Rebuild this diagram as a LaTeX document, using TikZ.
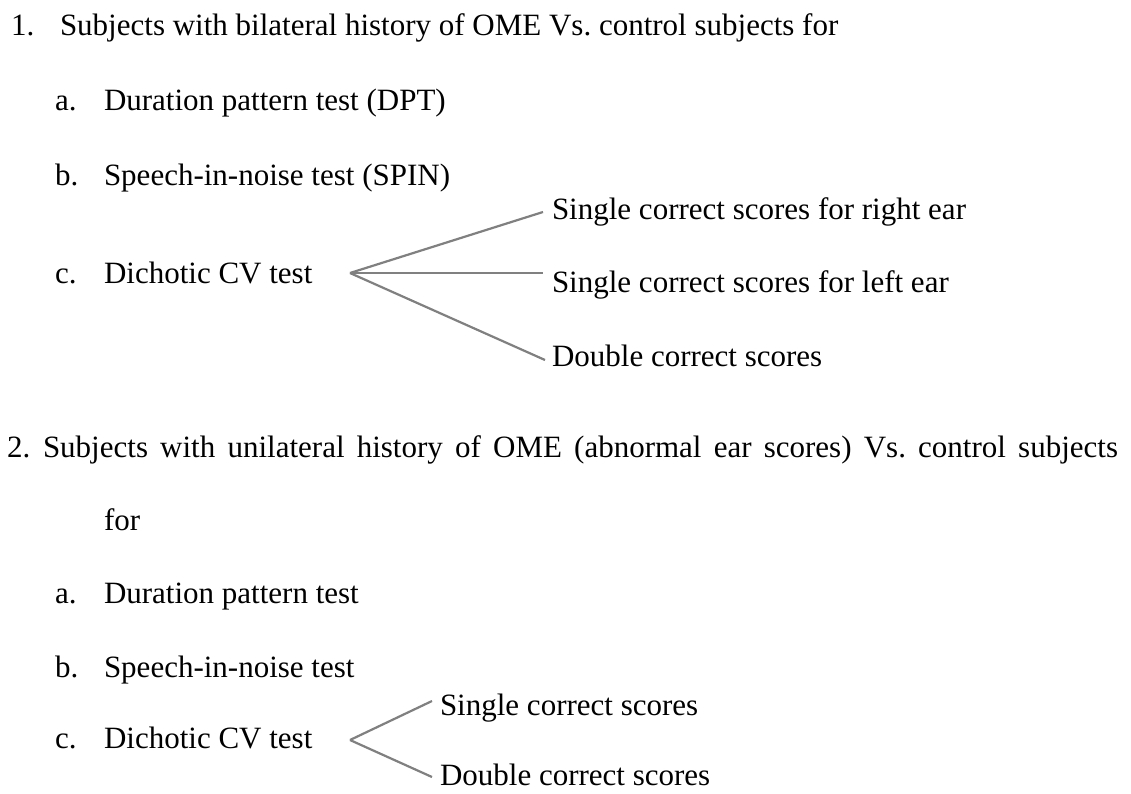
\documentclass[tikz,border=0pt]{standalone}
\usepackage{fontspec}
\setmainfont{Liberation Serif}
\frenchspacing
\begin{document}
\begin{tikzpicture}[x=1pt,y=-1pt,
  txt/.style={inner sep=0pt, outer sep=0pt, anchor=base west,
              font=\fontsize{31}{37}\selectfont},
  branch/.style={draw=black!50, line width=2.2pt}]
\fill[white] (0,0) rectangle (1131,793);
\useasboundingbox (0,0) rectangle (1131,793);

% Part 1
\node[txt] (n1)  at (11,35)  {1.};
\node[txt] (t1)  at (60,35)  {Subjects with bilateral history of OME Vs. control subjects for};
\node[txt] (a1l) at (55,110) {a.};
\node[txt] (a1)  at (104,110) {Duration pattern test (DPT)};
\node[txt] (b1l) at (55,185) {b.};
\node[txt] (b1)  at (104,185) {Speech-in-noise test (SPIN)};
\node[txt] (c1l) at (55,283) {c.};
\node[txt] (c1)  at (104,283) {Dichotic CV test};
\node[txt] (r1)  at (552,219) {Single correct scores for right ear};
\node[txt] (l1)  at (552,292) {Single correct scores for left ear};
\node[txt] (d1)  at (552,366) {Double correct scores};
\coordinate (f1) at (350,273);
\draw[branch] (f1) -- ([shift={(-9,-7)}]r1.base west);
\draw[branch] (f1) -- ([xshift=-9pt]l1.base west |- f1);
\draw[branch] (f1) -- ([shift={(-7,-6)}]d1.base west);

% Part 2
\node[txt] (n2)  at (7,457) {2.};
\node[txt] (t2)  at (43,457) {\makebox[1075pt][s]{Subjects with unilateral history of OME (abnormal ear scores) Vs. control subjects}};
\node[txt] (for) at (104,530) {for};
\node[txt] (a2l) at (55,603) {a.};
\node[txt] (a2)  at (104,603) {Duration pattern test};
\node[txt] (b2l) at (55,677) {b.};
\node[txt] (b2)  at (104,677) {Speech-in-noise test};
\node[txt] (c2l) at (55,748) {c.};
\node[txt] (c2)  at (104,748) {Dichotic CV test};
\node[txt] (s2)  at (440,715) {Single correct scores};
\node[txt] (d2)  at (440,785) {Double correct scores};
\coordinate (f2) at (350,740);
\draw[branch] (f2) -- ([shift={(-8,-14)}]s2.base west);
\draw[branch] (f2) -- ([shift={(-8,-8)}]d2.base west);
\end{tikzpicture}
\end{document}
